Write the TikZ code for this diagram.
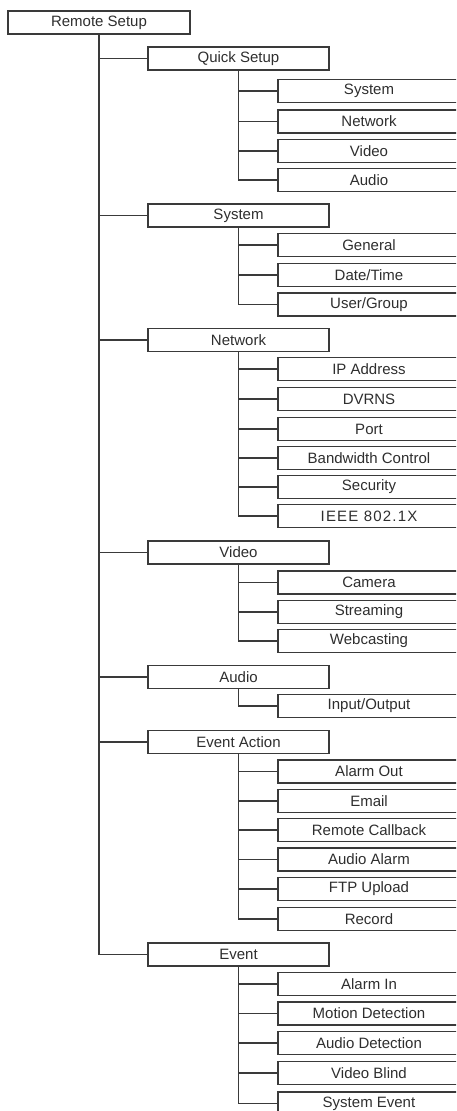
\documentclass[tikz,border=0pt]{standalone}
\usepackage{fontspec}
\setmainfont{Liberation Sans}
\definecolor{ln}{HTML}{3A3A3A}
\definecolor{tx}{HTML}{2E2E2E}
\tikzset{
  box/.style={draw=ln, line width=1.3pt, rectangle, minimum height=23pt, inner sep=0pt,
    font=\fontsize{15pt}{17pt}\selectfont, text=tx},
  rootbox/.style={box, minimum width=182pt},
  lonebox/.style={box, minimum width=181pt},
  ltwobox/.style={box, minimum width=182pt},
  conn/.style={draw=ln, line width=1.3pt}
}
\begin{document}
\begin{tikzpicture}[x=1pt,y=-1pt]
\useasboundingbox (0,0) rectangle (456,1111);
\clip (0,0) rectangle (456,1111);
\node[rootbox] (root) at (99,22.5) {Remote Setup};
% level 1
\node[lonebox] (qs) at (238.5,58.5) {Quick Setup};
\node[lonebox] (sy) at (238.5,215.5) {System};
\node[lonebox] (nw) at (238.5,340) {Network};
\node[lonebox] (vd) at (238.5,552.5) {Video};
\node[lonebox] (au) at (238.5,677) {Audio};
\node[lonebox] (ea) at (238.5,742) {Event Action};
\node[lonebox] (ev) at (238.5,954.5) {Event};
% level 2
\node[ltwobox] (qs1) at (369,91) {System};
\node[ltwobox] (qs2) at (369,121.5) {Network};
\node[ltwobox] (qs3) at (369,151) {Video};
\node[ltwobox] (qs4) at (369,180) {Audio};
\node[ltwobox] (sy1) at (369,245) {General};
\node[ltwobox] (sy2) at (369,275) {Date/Time};
\node[ltwobox] (sy3) at (369,304.5) {User/Group};
\node[ltwobox] (nw1) at (369,369) {IP Address};
\node[ltwobox] (nw2) at (369,399) {DVRNS};
\node[ltwobox] (nw3) at (369,429) {Port};
\node[ltwobox] (nw4) at (369,458) {Bandwidth Control};
\node[ltwobox] (nw5) at (369,487) {Security};
\node[ltwobox] (nw6) at (369,516) {\addfontfeature{LetterSpace=8}IEEE 802.1X};
\node[ltwobox] (vd1) at (369,582.5) {Camera};
\node[ltwobox] (vd2) at (369,612) {Streaming};
\node[ltwobox] (vd3) at (369,641) {Webcasting};
\node[ltwobox] (au1) at (369,706) {Input/Output};
\node[ltwobox] (ea1) at (369,771.5) {Alarm Out};
\node[ltwobox] (ea2) at (369,801) {Email};
\node[ltwobox] (ea3) at (369,830) {Remote Callback};
\node[ltwobox] (ea4) at (369,859.5) {Audio Alarm};
\node[ltwobox] (ea5) at (369,889) {FTP Upload};
\node[ltwobox] (ea6) at (369,919) {Record};
\node[ltwobox] (ev1) at (369,984) {Alarm In};
\node[ltwobox] (ev2) at (369,1013.5) {Motion Detection};
\node[ltwobox] (ev3) at (369,1043) {Audio Detection};
\node[ltwobox] (ev4) at (369,1073) {Video Blind};
\node[ltwobox] (ev5) at (369,1103.5) {System Event};
% main trunk
\draw[conn] (root.south) -- (root.south |- ev.west) -- (ev.west);
\foreach \n in {qs,sy,nw,vd,au,ea}
  \draw[conn] (root.south |- \n.west) -- (\n.west);
% sub trunks
\draw[conn] (qs.south) -- (qs.south |- qs4.west) -- (qs4.west);
\foreach \n in {qs1,qs2,qs3} \draw[conn] (qs.south |- \n.west) -- (\n.west);
\draw[conn] (sy.south) -- (sy.south |- sy3.west) -- (sy3.west);
\foreach \n in {sy1,sy2} \draw[conn] (sy.south |- \n.west) -- (\n.west);
\draw[conn] (nw.south) -- (nw.south |- nw6.west) -- (nw6.west);
\foreach \n in {nw1,nw2,nw3,nw4,nw5} \draw[conn] (nw.south |- \n.west) -- (\n.west);
\draw[conn] (vd.south) -- (vd.south |- vd3.west) -- (vd3.west);
\foreach \n in {vd1,vd2} \draw[conn] (vd.south |- \n.west) -- (\n.west);
\draw[conn] (au.south) -- (au.south |- au1.west) -- (au1.west);
\draw[conn] (ea.south) -- (ea.south |- ea6.west) -- (ea6.west);
\foreach \n in {ea1,ea2,ea3,ea4,ea5} \draw[conn] (ea.south |- \n.west) -- (\n.west);
\draw[conn] (ev.south) -- (ev.south |- ev5.west) -- (ev5.west);
\foreach \n in {ev1,ev2,ev3,ev4} \draw[conn] (ev.south |- \n.west) -- (\n.west);
\end{tikzpicture}
\end{document}
